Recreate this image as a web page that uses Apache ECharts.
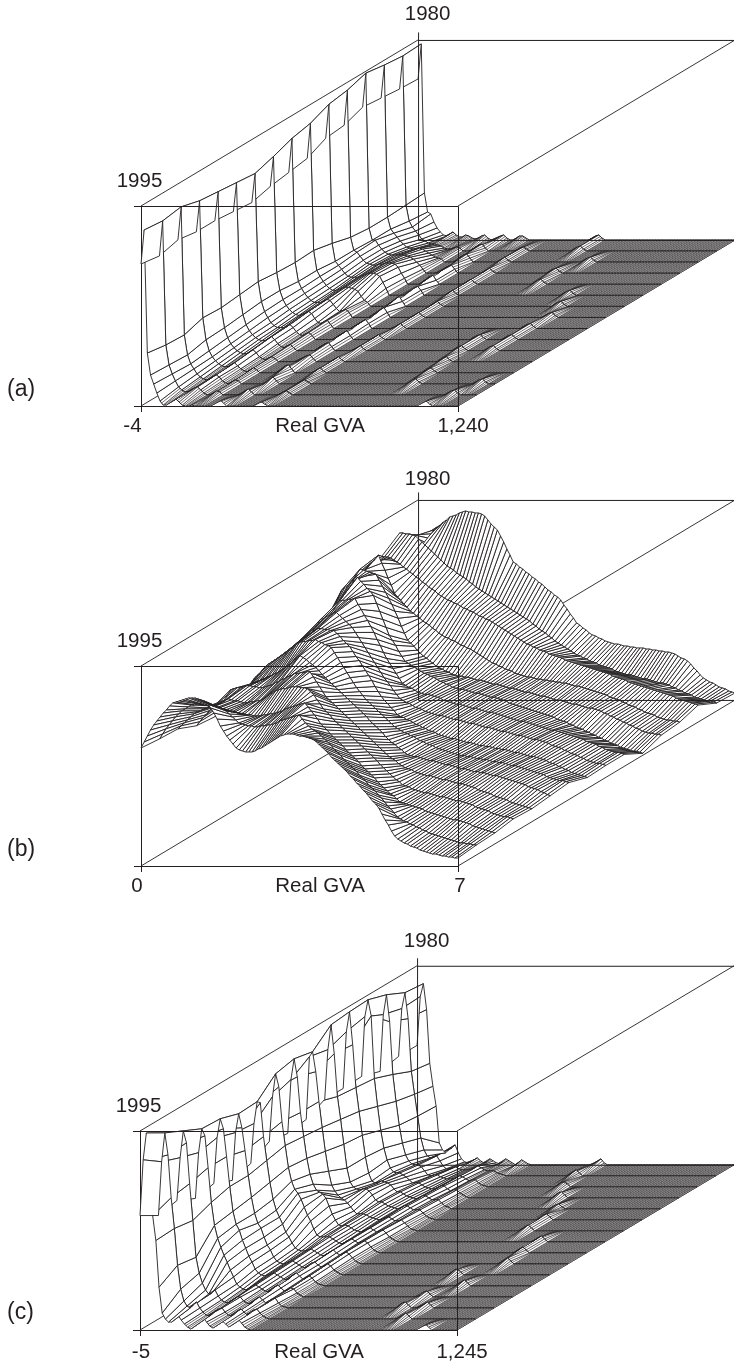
<!DOCTYPE html>
<html><head><meta charset="utf-8">
<style>html,body{margin:0;padding:0;background:#fff}#c{width:734px;height:1366px}</style>
<script src="https://cdn.jsdelivr.net/npm/echarts@6/dist/echarts.min.js"></script>
</head><body><div id="c"></div>
<script>
// Rows run 1995 -> 1980 (16 years); columns are real-GVA bins (0..100). Values are surface heights.
const yearLabels = ['1995','1980'];
const panelLabels = ['(a)','(b)','(c)'];
const tickLabelsA = ['-4','Real GVA','1,240'];
const tickLabelsB = ['0','Real GVA','7'];
const tickLabelsC = ['-5','Real GVA','1,245'];

const surfaceA = [
[142,176,53,31,22,13,5,1,1,3,5,7,4,1,0,0,1,0,0,0],
[139,174,50,30,21,14,8,5,3,3,5,7,8,5,2,0,0,2,4,3],
[144,177,49,29,20,15,10,7,5,4,5,7,9,7,3,1,0,2,4,3],
[141,172,55,33,22,16,12,9,7,6,6,8,10,7,4,2,1,3,5,3],
[141,170,54,34,24,18,14,11,9,8,8,10,12,9,5,3,2,4,5,3],
[139,168,56,36,26,20,16,13,11,10,10,12,14,11,7,4,3,5,6,3],
[137,166,58,38,28,22,17,14,12,12,12,13,15,12,8,5,4,6,7,4],
[142,172,56,38,29,23,19,16,14,13,14,15,17,15,10,6,5,7,8,4],
[145,179,55,36,29,24,20,17,15,15,15,16,18,17,13,9,6,7,8,5],
[148,183,56,36,30,25,21,18,16,16,17,18,19,19,18,17,15,10,6,4],
[157,191,52,34,30,26,22,19,18,18,18,19,20,21,22,22,21,19,13,7],
[159,194,47,34,32,28,24,21,20,19,19,20,20,21,21,21,20,17,11,6],
[166,200,45,33,33,28,24,21,19,18,18,18,18,18,17,16,14,11,8,4],
[164,197,45,33,29,25,21,18,15,14,13,13,14,13,11,9,7,5,4,3],
[162,195,46,30,24,20,16,12,10,8,7,7,6,5,3,2,2,3,4,3],
[161,196,47,28,26,18,12,8,5,4,6,8,5,3,3,5,4,2,1,0]
];
const patchesA = [
[0,23,[2,4,6,3]],[0,36,[1,3,4,2]],[0,88,[2,4,5,2]],
[1,26,[2,4,6,3]],[1,38,[1,3,4,2]],[1,91,[2,4,5,2]],
[2,28,[2,5,7,3]],[2,38,[1,3,4,2]],[2,73,[2,4,5,2]],[2,94,[2,4,5,2]],
[3,26,[2,4,7,8,4]],[3,37,[1,3,5,2]],[3,72,[2,4,5,2]],
[4,27,[2,4,6,7,3]],[4,37,[1,3,5,2]],[4,71,[2,4,5,2]],
[5,27,[3,5,7,8,4]],[5,38,[1,3,5,2]],[5,70,[2,4,5,2]],[5,80,[2,4,5,2]],
[6,27,[3,5,7,9,4]],[6,38,[1,3,5,2]],[6,70,[2,4,5,2]],[6,80,[2,4,5,2]],
[7,27,[3,5,7,9,5]],[7,39,[1,3,5,2]],[7,80,[2,4,5,2]],
[8,27,[3,5,8,10,5]],[8,39,[1,3,5,2]],[8,81,[2,4,5,2]],
[9,26,[3,5,8,10,5]],[9,39,[1,3,5,2]],[9,78,[2,4,5,2]],
[10,26,[3,5,8,9,5]],[10,38,[1,3,5,2]],[10,75,[2,4,5,2]],
[11,25,[3,5,8,9,4]],[11,38,[1,3,5,2]],[11,60,[2,4,5,2]],
[12,25,[3,5,7,8,4]],[12,38,[1,3,5,2]],[12,59,[2,4,5,2]],
[13,24,[2,5,7,8,4]],[13,37,[1,3,5,2]],[13,64,[2,4,5,2]],
[14,23,[2,4,6,7,3]],[14,37,[1,3,4,2]],[14,55,[2,4,5,2]],
[15,19,[2,4,5,2]],[15,25,[2,4,5,2]],[15,31,[2,4,4,2]],[15,55,[2,4,5,2]]
];

const surfaceB = [
[118, 124,130,136,141,145, 149,153,156,160,163, 164,165,166,167,168, 168,168,167,166,165, 162,158,153,147,140, 135,130,126,122,118, 116,115,114,114,114, 115,117,118,120,122, 124,126,128,130,131, 132,132,132,131,130, 130,129,128,127,125, 122,119,116,113,109, 106,103,100,97,94, 90,87,83,80,76, 73,69,65,62,58, 52,46,41,35,30, 27,25,23,22,20, 19,18,16,15,14, 13,12,12,11,10, 10,9,9,8,8],
[116, 121,126,130,134,138, 141,144,146,148,150, 150,151,151,150,150, 150,149,148,147,146, 144,141,138,135,132, 131,130,129,129,128, 128,129,129,130,130, 131,132,134,135,136, 137,138,139,140,136, 132,129,126,124,122, 119,116,113,110,106, 103,100,96,93,90, 87,84,80,77,74, 70,67,64,60,57, 53,49,46,42,38, 36,34,33,31,30, 28,27,25,24,22, 21,20,19,18,17, 16,15,14,13,12, 12,11,11,10,10],
[115, 118,121,124,127,130, 132,133,135,136,138, 137,136,136,135,134, 133,132,132,131,130, 130,129,129,128,128, 128,129,129,130,130, 131,132,133,135,136, 137,138,139,140,141, 137,133,129,125,120, 117,114,110,107,104, 101,98,94,91,88, 85,82,78,75,72, 69,66,62,59,56, 53,50,48,45,42, 41,40,39,38,37, 36,35,33,32,31, 30,29,28,27,26, 25,24,24,23,22, 21,20,18,17,16, 15,14,13,12,11],
[107, 111,115,118,122,125, 127,129,130,132,134, 133,132,132,131,130, 130,131,131,132,132, 134,136,138,140,142, 143,144,144,145,146, 146,146,145,145,144, 141,138,133,129,124, 121,118,114,111,108, 105,102,99,96,93, 90,87,84,81,78, 75,72,68,65,62, 59,56,53,51,48, 47,46,44,43,42, 41,40,40,39,38, 37,36,36,35,34, 33,32,32,31,30, 29,28,26,25,24, 23,22,20,19,18, 17,16,16,15,14],
[105, 111,116,122,127,132, 133,134,134,135,136, 136,135,135,134,134, 135,136,137,139,140, 142,143,145,146,148, 148,149,149,150,150, 145,140,135,130,125, 122,119,116,113,110, 107,104,101,98,95, 92,89,86,83,80, 77,74,71,68,65, 63,61,58,56,54, 53,52,50,49,48, 47,46,46,45,44, 43,42,42,41,40, 39,38,38,37,36, 35,34,32,31,30, 29,28,26,25,24, 23,22,20,19,18, 17,16,15,14,13],
[100, 105,110,115,120,125, 126,128,129,131,132, 134,135,137,138,140, 142,145,147,150,152, 155,153,151,148,146, 143,140,136,133,130, 127,124,121,118,115, 112,109,106,103,100, 97,94,90,87,84, 81,78,74,71,68, 66,63,61,58,56, 55,54,54,53,52, 51,50,50,49,48, 47,46,46,45,44, 43,42,42,41,40, 39,39,38,38,37, 36,35,35,34,33, 32,31,30,29,28, 27,26,24,23,22, 21,19,18,16,15],
[118, 122,125,128,132,135, 137,139,141,143,145, 147,150,152,155,157, 158,158,159,159,160, 158,157,155,154,152, 147,142,137,132,127, 122,117,112,108,104, 100,97,94,91,88, 85,82,79,76,73, 71,69,67,66,64, 63,61,59,58,56, 55,54,52,51,50, 49,48,47,46,45, 44,44,43,43,42, 41,41,40,40,39, 38,38,37,37,36, 35,34,34,33,32, 31,30,29,28,27, 26,25,23,22,21, 20,19,19,18,17],
[120, 123,126,129,132,135, 138,141,144,147,150, 152,154,156,158,160, 160,159,159,158,158, 155,152,148,145,142, 137,132,128,123,118, 113,108,102,97,92, 88,85,81,78,74, 72,71,69,68,66, 64,63,61,60,58, 57,56,54,53,52, 51,50,50,49,48, 47,46,46,45,44, 43,43,42,42,41, 40,40,39,39,38, 37,36,36,35,34, 33,32,32,31,30, 29,28,26,25,24, 22,21,19,18,16, 15,14,13,12,11],
[115, 119,123,127,131,135, 140,144,149,153,158, 159,161,162,164,165, 162,159,156,153,150, 145,140,135,130,125, 120,115,110,105,100, 96,92,87,83,79, 77,75,74,72,70, 69,68,66,65,64, 63,62,62,61,60, 59,58,58,57,56, 55,54,54,53,52, 51,50,50,49,48, 47,46,46,45,44, 43,42,42,41,40, 39,38,38,37,36, 35,34,32,31,30, 29,27,26,24,23, 22,20,19,17,16, 15,14,14,13,12],
[118, 122,127,131,136,140, 145,150,155,160,165, 166,166,167,167,168, 162,157,151,146,140, 134,127,121,114,108, 103,98,93,88,83, 81,79,78,76,74, 73,72,72,71,70, 69,68,66,65,64, 63,62,62,61,60, 59,58,58,57,56, 55,54,54,53,52, 51,50,49,48,47, 46,45,45,44,43, 42,41,40,39,38, 37,36,36,35,34, 33,32,31,30,29, 28,27,25,24,23, 22,20,19,17,16, 15,14,14,13,12],
[130, 137,144,151,158,165, 168,170,173,175,178, 174,171,167,164,160, 152,144,136,128,120, 115,110,104,99,94, 92,90,88,86,84, 82,81,79,78,76, 74,73,71,70,68, 67,66,66,65,64, 63,62,62,61,60, 59,58,58,57,56, 55,54,52,51,50, 49,48,47,46,45, 44,43,42,41,40, 39,38,36,35,34, 33,31,30,28,27, 26,24,23,21,20, 18,17,15,14,12, 11,10,8,7,6, 5,4,4,3,2],
[150, 155,160,165,170,175, 174,173,172,171,170, 164,158,152,146,140, 133,126,118,111,104, 101,98,94,91,88, 86,83,81,78,76, 75,73,72,70,69, 68,68,67,67,66, 65,64,64,63,62, 61,60,60,59,58, 57,56,56,55,54, 53,52,52,51,50, 49,48,48,47,46, 45,44,44,43,42, 41,40,40,39,38, 37,36,36,35,34, 33,31,30,28,27, 25,24,22,21,19, 18,16,15,13,12, 11,11,10,10,9],
[160, 164,167,171,174,178, 170,163,155,148,140, 136,133,129,126,122, 120,117,115,112,110, 108,105,103,100,98, 96,95,93,92,90, 88,87,85,84,82, 80,78,76,74,72, 70,69,67,66,64, 63,62,60,59,58, 57,56,56,55,54, 54,53,53,52,52, 51,51,50,50,49, 48,47,47,46,45, 44,43,42,41,40, 39,38,36,35,34, 33,31,30,28,27, 26,24,23,21,20, 19,18,16,15,14, 13,13,12,12,11],
[165, 165,165,164,162,160, 158,155,153,150,148, 145,143,140,138,135, 133,131,128,126,124, 122,121,119,118,116, 114,113,111,110,108, 106,105,103,102,100, 98,96,94,92,90, 88,86,84,82,80, 78,77,75,74,72, 71,70,68,67,66, 65,64,62,61,60, 59,58,57,56,55, 54,53,52,51,50, 49,48,46,45,44, 43,42,40,39,38, 37,36,35,34,33, 32,31,30,29,28, 27,26,24,23,22, 21,20,19,18,17],
[178, 178,177,177,176,175, 172,169,166,163,160, 157,154,151,148,145, 143,141,138,136,134, 132,129,127,124,122, 120,118,116,114,112, 110,108,106,104,102, 100,98,96,94,92, 90,87,85,82,80, 78,75,73,70,68, 66,64,62,60,58, 56,55,53,52,50, 49,48,46,45,44, 43,42,40,39,38, 37,36,36,35,34, 33,32,32,31,30, 29,28,28,27,26, 24,23,21,20,18, 17,16,14,13,12, 11,10,10,9,8],
[150, 154,158,162,166,170, 173,175,178,180,183, 184,185,187,188,189, 188,188,187,187,186, 184,180,176,173,170, 164,158,151,145,138, 136,133,131,128,126, 123,121,118,116,113, 110,108,105,103,100, 95,91,86,82,77, 75,72,70,67,65, 64,62,61,59,58, 57,56,56,55,54, 54,53,53,52,52, 52,51,51,50,50, 49,49,48,48,47, 46,44,42,41,39, 36,32,29,25,22, 20,18,17,15,13, 12,11,9,8,7]
];

const surfaceC = [
[115,171,198,171,115,90,43,17,11,8,8,11,15,10,6,3,1,3,6,9,12,8,4,2,4,7,9,6,3,5,8,11,7,3,1,0,0,0,0,0],
[104,158,187,165,122,91,54,30,18,13,11,14,17,11,7,4,3,5,8,10,11,7,4,3,5,8,10,7,4,6,9,10,6,3,1,0,0,0,0,0],
[108,151,178,166,125,88,51,35,25,18,14,15,18,12,8,6,5,7,9,11,11,7,5,4,6,9,11,8,5,6,9,10,5,2,1,0,0,0,0,0],
[99,145,169,162,130,95,72,59,50,42,35,27,20,13,10,8,7,9,11,12,10,8,6,5,7,10,12,9,6,7,9,8,4,2,0,0,0,0,0,0],
[103,149,168,158,130,100,75,62,56,46,38,30,24,17,13,11,10,11,12,13,11,9,7,6,8,11,13,10,7,8,10,8,4,2,1,0,0,0,0,0],
[95,143,162,148,125,100,78,62,52,47,38,30,25,18,14,12,11,12,13,14,12,10,8,7,9,12,13,10,8,9,11,9,5,3,1,0,0,0,0,0],
[101,141,163,162,128,104,82,65,54,47,40,32,27,21,16,14,13,13,14,15,13,11,9,8,10,12,14,11,9,10,12,10,6,3,1,0,0,0,0,0],
[112,157,180,167,132,108,86,72,64,60,54,46,38,32,24,18,16,16,16,16,14,12,10,9,11,13,14,12,10,11,12,10,6,3,1,0,0,0,0,0],
[109,163,184,166,130,106,84,68,58,52,50,48,44,36,28,22,17,16,17,16,14,12,11,10,11,13,14,12,10,11,12,9,5,3,1,0,0,0,0,0],
[112,175,180,160,130,104,80,60,46,40,36,33,31,28,24,20,17,17,17,16,14,13,12,11,12,13,14,12,10,10,11,8,5,2,1,0,0,0,0,0],
[121,171,196,167,124,101,76,52,38,33,31,30,31,31,29,25,20,18,18,16,14,13,12,11,12,14,14,12,10,10,10,7,4,2,1,0,0,0,0,0],
[121,178,198,165,122,98,74,52,36,28,26,26,28,27,26,24,20,17,17,15,13,12,11,10,11,13,13,11,9,9,9,6,3,2,0,0,0,0,0,0],
[122,182,199,183,120,92,68,50,38,30,26,25,25,23,21,18,15,15,15,13,11,10,9,9,10,12,12,9,7,8,8,5,3,1,0,0,0,0,0,0],
[116,173,193,166,113,86,62,44,32,26,23,22,22,20,16,12,11,12,12,10,9,8,8,8,9,11,10,8,6,7,7,4,2,1,0,0,0,0,0,0],
[120,168,184,158,105,82,60,38,26,20,18,19,20,15,10,7,7,8,9,7,6,6,6,6,8,10,8,6,5,5,5,3,2,1,0,0,0,0,0,0],
[120,169,182,156,102,79,59,22,15,12,15,17,20,12,6,3,2,3,5,7,4,2,3,6,4,2,1,3,6,4,2,0,2,5,3,1,0,0,0,0]
];
const patchesC = [
[0,88,[2,4,6,3]],[1,76,[2,4,6,3]],[2,70,[2,5,6,3]],[2,77,[2,4,6,3]],[3,71,[2,5,6,3]],[4,77,[2,4,6,3]],[5,69,[2,5,6,3]],
[6,79,[2,4,6,3]],[7,78,[2,4,6,3]],[8,78,[2,4,6,3]],[9,68,[2,4,6,3]],[10,68,[2,5,6,3]],[11,66,[2,4,5,2]],[12,61,[2,5,6,3]],
[13,56,[2,4,5,3]],[14,54,[2,4,6,3]],[15,56,[2,4,6,2]]
];

// Oblique projection: each year back shifts the row along the floor's diagonal.
const YEARS_BACK = 15, SHEAR_BINS = 5.827, RISE = 11.07, BINS = 100, TOP = 200, LOW = 8;
const INK = '#231f20';
const FONT = '20.5px "Liberation Sans"';

function fullGrid(rows, patches) {
  const g = rows.map(function (row) {
    const out = [];
    for (let c = 0; c <= BINS; c++) out.push(row[c] === undefined ? 0 : row[c]);
    return out;
  });
  (patches || []).forEach(function (p) {
    p[2].forEach(function (v, i) { g[p[0]][p[1] + i] = v; });
  });
  return g;
}
function quads(g) {
  const out = [];
  for (let r = g.length - 2; r >= 0; r--)
    for (let c = BINS - 1; c >= 0; c--)
      out.push([r, c, g[r][c], g[r][c + 1], g[r + 1][c], g[r + 1][c + 1]]);
  return out;
}
function pt(api, c, z, r) { return api.coord([c + r * SHEAR_BINS, z + r * RISE]); }
function seg(a, b, w) {
  return { type: 'line', silent: true, shape: { x1: a[0], y1: a[1], x2: b[0], y2: b[1] }, style: { stroke: INK, lineWidth: w } };
}
function quadItem(fineFloor) {
  return function (params, api) {
    const r = api.value(0), c = api.value(1), z0 = api.value(2), z1 = api.value(3), z2 = api.value(4), z3 = api.value(5);
    const p0 = pt(api, c, z0, r), p1 = pt(api, c + 1, z1, r), p2 = pt(api, c + 1, z3, r + 1), p3 = pt(api, c, z2, r + 1);
    if (fineFloor && Math.max(z0, z1, z2, z3) <= LOW) {
      // near-flat floor: the fine bin rulings read as a grey tone, with the year lines on top
      return { type: 'group', silent: true, children: [
        { type: 'polygon', silent: true, shape: { points: [p0, p1, p2, p3] }, style: { fill: '#fff', stroke: null } },
        seg(p0, p3, 0.62), seg(pt(api, c + 0.5, (z0 + z1) / 2, r), pt(api, c + 0.5, (z2 + z3) / 2, r + 1), 0.62), seg(p1, p2, 0.62),
        seg(p0, p1, 1), seg(p3, p2, 1)
      ] };
    }
    return { type: 'polygon', silent: true, shape: { points: [p0, p1, p2, p3] },
      style: { fill: '#fff', stroke: INK, lineWidth: 0.9 } };
  };
}
function lineItem(params, api) {
  const a = pt(api, api.value(0), api.value(1), api.value(2));
  const b = pt(api, api.value(3), api.value(4), api.value(5));
  const off = (a[0] === b[0] || Math.abs(a[1] - b[1]) < 0.01) ? 0.5 : 0;
  return { type: 'line', silent: true,
    shape: { x1: a[0] + off, y1: a[1] + off, x2: b[0] + off, y2: b[1] + off },
    style: { stroke: INK, lineWidth: off ? 1 : 0.9 } };
}
function textItem(labels) {
  return function (params, api) {
    const a = pt(api, api.value(0), api.value(1), api.value(2));
    return { type: 'text', silent: true, x: a[0] + api.value(3), y: a[1] + api.value(4),
      style: { text: labels[api.value(5)], fill: INK, font: FONT, align: 'center', verticalAlign: 'middle' } };
  };
}
const diagonals = [[0,TOP,0,0,TOP,YEARS_BACK],[BINS,TOP,0,BINS,TOP,YEARS_BACK],[0,0,0,0,0,YEARS_BACK],[BINS,0,0,BINS,0,YEARS_BACK]];
const frontLines = [[0,0,YEARS_BACK,0,TOP+8,YEARS_BACK],[0,TOP,YEARS_BACK,BINS,TOP,YEARS_BACK],[0,0,YEARS_BACK,BINS,0,YEARS_BACK],[0,TOP,0,BINS,TOP,0],[BINS,0,0,BINS,TOP,0]];
const yearPosA = [[0,TOP,0,-1.5,-25,0],[0,TOP,YEARS_BACK,9.5,-25.5,1]];
const yearPosB = [[0,TOP,0,-1.5,-25,0],[0,TOP,YEARS_BACK,9.5,-20.5,1]];
const yearPosC = [[0,TOP,0,-1.5,-25,0],[0,TOP,YEARS_BACK,9.5,-24.5,1]];
const tickPosA = [[-2.7,0,0,0,20,0],[56.5,0,0,0,20,1],[101.6,0,0,0,20,2]];
const tickPosB = [[-1.3,0,0,0,20,0],[56.5,0,0,0,20,1],[100.6,0,0,0,20,2]];
const tickPosC = [[0.3,0,0,0,22,0],[56.5,0,0,0,22,1],[101.6,0,0,0,22,2]];

const panels = [
  { left: 141, top: 206, height: 200, grid: fullGrid(surfaceA, patchesA), ticks: tickLabelsA, tickPos: tickPosA, yearPos: yearPosA, fine: true },
  { left: 141, top: 666, height: 200, grid: fullGrid(surfaceB), ticks: tickLabelsB, tickPos: tickPosB, yearPos: yearPosB, fine: false },
  { left: 140, top: 1131, height: 199, grid: fullGrid(surfaceC, patchesC), ticks: tickLabelsC, tickPos: tickPosC, yearPos: yearPosC, fine: true }
];
const labelCentres = [391, 851, 1314];
const grids = [], xAxes = [], yAxes = [], series = [];
panels.forEach(function (p, i) {
  grids.push({ left: p.left, top: p.top, width: 317, height: p.height, containLabel: false });
  xAxes.push({ gridIndex: i, type: 'value', min: 0, max: BINS, splitLine: { show: false },
    axisLine: { onZero: false, lineStyle: { color: INK, width: 1 } },
    axisTick: { show: true, length: 6, customValues: [0, BINS], lineStyle: { color: INK } },
    axisLabel: { show: false } });
  yAxes.push({ gridIndex: i, type: 'value', min: 0, max: TOP, splitLine: { show: false },
    axisLine: { show: true, onZero: false, lineStyle: { color: INK, width: 1 } },
    axisTick: { show: true, length: 7, customValues: [0, TOP], lineStyle: { color: INK } },
    axisLabel: { show: false } });
  const base = { type: 'custom', coordinateSystem: 'cartesian2d', xAxisIndex: i, yAxisIndex: i, animation: false, silent: true, progressive: 0, clip: false };
  series.push(Object.assign({}, base, { z: 1, renderItem: lineItem, data: diagonals }));
  series.push(Object.assign({}, base, { z: 2, renderItem: quadItem(p.fine), data: quads(p.grid) }));
  series.push(Object.assign({}, base, { z: 3, renderItem: lineItem, data: frontLines }));
  series.push(Object.assign({}, base, { z: 3, renderItem: textItem(yearLabels), data: p.yearPos }));
  series.push(Object.assign({}, base, { z: 3, renderItem: textItem(p.ticks), data: p.tickPos }));
});
const chart = echarts.init(document.getElementById('c'), null, { renderer: 'canvas', width: 734, height: 1366 });
chart.setOption({
  animation: false, backgroundColor: '#fff', grid: grids, xAxis: xAxes, yAxis: yAxes, series: series,
  graphic: panelLabels.map(function (t, i) {
    return { type: 'text', left: 7, top: labelCentres[i] - 13, style: { text: t, fill: INK, font: '23px "Liberation Sans"' } };
  })
});
</script></body></html>
